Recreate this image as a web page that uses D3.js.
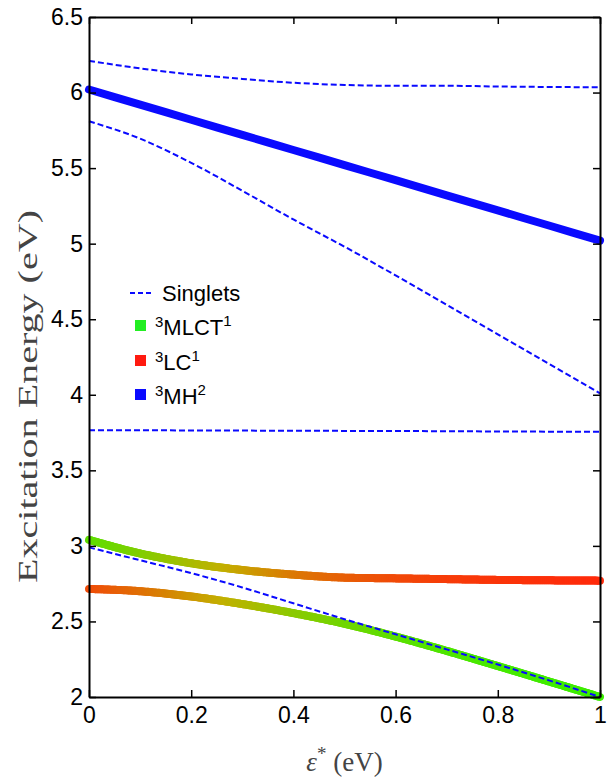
<!DOCTYPE html>
<html>
<head>
<meta charset="utf-8">
<script src="https://cdn.jsdelivr.net/npm/d3@7"></script>
<style>
  body { margin: 0; background: #fff; }
  .tick text { font-family: "Liberation Sans", Arial, sans-serif; font-size: 23px; fill: #000; }
</style>
</head>
<body>
<div class="energy-plot"></div>
<script>
// data
const eps = [0, 0.1, 0.2, 0.3, 0.4, 0.5, 0.6, 0.7, 0.8, 0.9, 1.0];
const singletA = [6.21, 6.16, 6.12, 6.09, 6.065, 6.05, 6.045, 6.045, 6.04, 6.037, 6.035];
const singletB = [5.81, 5.695, 5.535, 5.35, 5.16, 4.98, 4.79, 4.595, 4.40, 4.205, 4.01];
const singletC = [3.765, 3.765, 3.764, 3.763, 3.762, 3.761, 3.76, 3.759, 3.757, 3.756, 3.755];
const singletD = [2.99, 2.905, 2.82, 2.725, 2.62, 2.515, 2.415, 2.315, 2.215, 2.11, 2.00];
const mh2 = [6.02, 5.92, 5.82, 5.72, 5.62, 5.52, 5.42, 5.32, 5.22, 5.12, 5.02];
const upperTriplet = [3.04, 2.95, 2.885, 2.84, 2.81, 2.79, 2.785, 2.78, 2.775, 2.772, 2.77];
const lowerTriplet = [2.715, 2.70, 2.665, 2.615, 2.555, 2.485, 2.40, 2.305, 2.205, 2.103, 2.00];
// MLCT character of each triplet branch (1 = green, 0 = red)
const upperMLCT = [0.88, 0.75, 0.6, 0.45, 0.3, 0.2, 0.12, 0.07, 0.04, 0.02, 0.0];
const lowerMLCT = [0.12, 0.25, 0.4, 0.55, 0.7, 0.8, 0.88, 0.93, 0.96, 0.98, 1.0];
const xTicks = [0, 0.2, 0.4, 0.6, 0.8, 1];
const yTicks = [2, 2.5, 3, 3.5, 4, 4.5, 5, 5.5, 6, 6.5];
const legendNames = ["Singlets", "MLCT", "LC", "MH"];
const legendSup = ["", "1", "1", "2"];

const width = 613, height = 781;
const margin = {left: 89, right: 13, top: 17, bottom: 84};

const svg = d3.select('.energy-plot')
  .append('svg')
  .attr('width', width)
  .attr('height', height);

const x = d3.scaleLinear().domain([0, 1]).range([margin.left, width - margin.right]);
const y = d3.scaleLinear().domain([2, 6.5]).range([height - margin.bottom, margin.top]);

const red = "#ff2a0a", green = "#3cee00", blue = "#0a0aff";
const mix = d3.scaleLinear().domain([0, 0.5, 1]).range([red, "#c2b000", green]);

const line = d3.line()
  .x((d, i) => x(eps[i]))
  .y(d => y(d))
  .curve(d3.curveMonotoneX);

// blue thick 3MH line
svg.append("path")
  .attr("d", line(mh2))
  .attr("fill", "none")
  .attr("stroke", blue)
  .attr("stroke-width", 8)
  .attr("stroke-linecap", "round");

// colour-graded triplet branches
function gradedLine(vals, frac) {
  const tmp = svg.append("path").attr("d", line(vals)).attr("fill", "none");
  const node = tmp.node();
  const len = node.getTotalLength();
  const n = 240;
  const fracAt = d3.scaleLinear().domain(eps).range(frac).clamp(true);
  const g = svg.append("g");
  for (let k = 0; k < n; k++) {
    const p0 = node.getPointAtLength(len * k / n);
    const p1 = node.getPointAtLength(len * (k + 1) / n);
    const t = fracAt(x.invert((p0.x + p1.x) / 2));
    g.append("line")
      .attr("x1", p0.x).attr("y1", p0.y)
      .attr("x2", p1.x).attr("y2", p1.y)
      .attr("stroke", mix(t))
      .attr("stroke-width", 8)
      .attr("stroke-linecap", "round");
  }
  tmp.remove();
}
gradedLine(upperTriplet, upperMLCT);
gradedLine(lowerTriplet, lowerMLCT);

// singlets, dashed
[singletA, singletB, singletC, singletD].forEach(s => {
  svg.append("path")
    .attr("d", line(s))
    .attr("fill", "none")
    .attr("stroke", blue)
    .attr("stroke-width", 2)
    .attr("stroke-dasharray", "6,3");
});

// axes (ticks pointing inward, box all round)
const fmt = d3.format("~g");
svg.append("g")
  .attr("transform", `translate(0,${y(2)})`)
  .call(d3.axisBottom(x).tickValues(xTicks).tickFormat(fmt).tickSizeInner(-7).tickSizeOuter(0).tickPadding(10));
svg.append("g")
  .attr("transform", `translate(${x(0)},0)`)
  .call(d3.axisLeft(y).tickValues(yTicks).tickFormat(fmt).tickSizeInner(-7).tickSizeOuter(0).tickPadding(6));
svg.append("g")
  .attr("transform", `translate(0,${y(6.5)})`)
  .call(d3.axisTop(x).tickValues(xTicks).tickFormat("").tickSizeInner(-7).tickSizeOuter(0));
svg.append("g")
  .attr("transform", `translate(${x(1)},0)`)
  .call(d3.axisRight(y).tickValues(yTicks).tickFormat("").tickSizeInner(-7).tickSizeOuter(0));

svg.selectAll(".domain").attr("stroke", "#000").attr("stroke-width", 2);
svg.selectAll(".tick line").attr("stroke", "#000").attr("stroke-width", 1.5);

// axis titles
svg.append("text")
  .attr("transform", `translate(37,${(210 + 583) / 2}) rotate(-90)`)
  .attr("text-anchor", "middle")
  .attr("font-family", "'Liberation Serif', serif")
  .attr("font-size", "27px")
  .attr("fill", "#444")
  .attr("textLength", 373)
  .attr("lengthAdjust", "spacingAndGlyphs")
  .text("Excitation Energy (eV)");

const xt = svg.append("text")
  .attr("x", x(0.5))
  .attr("y", 771)
  .attr("text-anchor", "middle")
  .attr("font-family", "'Liberation Serif', serif")
  .attr("font-size", "27px")
  .attr("fill", "#444");
xt.append("tspan").attr("font-style", "italic").text("ε");
xt.append("tspan").attr("dy", -11).attr("font-size", "19px").text("*");
xt.append("tspan").attr("dy", 11).text(" (eV)");

// legend
const legY = [293, 326, 361, 395];
const legColors = [blue, "#22ee22", "#ff1a10", blue];
const leg = svg.append("g")
  .attr("font-family", "'Liberation Sans', Arial, sans-serif")
  .attr("fill", "#000");

legendNames.forEach((name, i) => {
  if (i === 0) {
    leg.append("line")
      .attr("x1", 130).attr("x2", 151)
      .attr("y1", legY[i]).attr("y2", legY[i])
      .attr("stroke", blue).attr("stroke-width", 2).attr("stroke-dasharray", "5,3");
    leg.append("text").attr("x", 162).attr("y", legY[i] + 8)
      .attr("font-size", "22px").text(name);
  } else {
    leg.append("rect")
      .attr("x", 135).attr("y", legY[i] - 6)
      .attr("width", 11).attr("height", 11)
      .attr("fill", legColors[i]);
    const t = leg.append("text").attr("x", 155).attr("y", legY[i] + 9).attr("font-size", "22px");
    t.append("tspan").attr("font-size", "15px").attr("dy", -8).text("3");
    t.append("tspan").attr("dy", 8).text(name);
    t.append("tspan").attr("font-size", "15px").attr("dy", -9).text(legendSup[i]);
  }
});
</script>
</body>
</html>
